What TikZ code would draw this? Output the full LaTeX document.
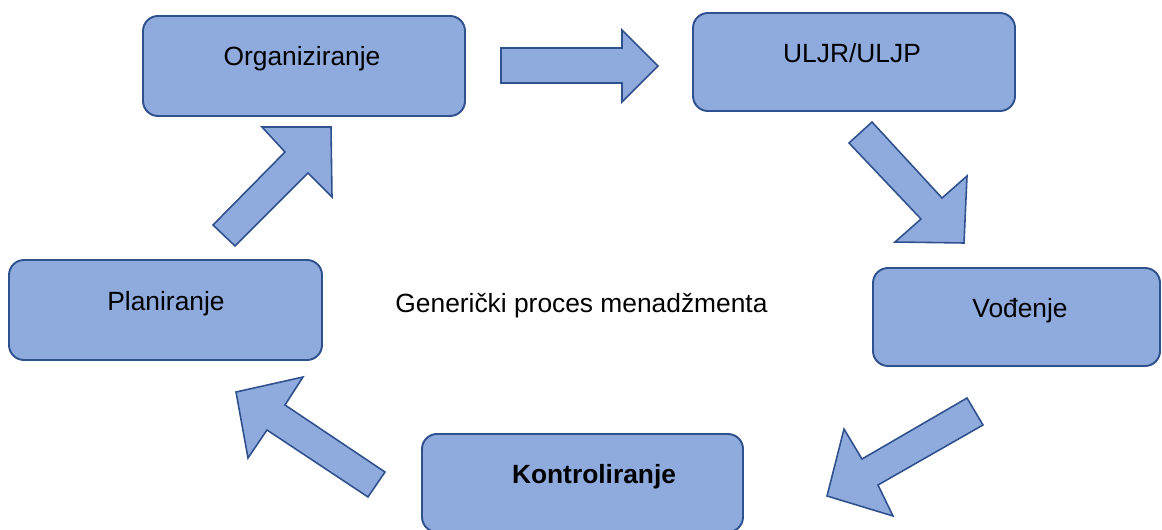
\documentclass[tikz,border=0pt]{standalone}
\usepackage{fontspec}
\setmainfont{Liberation Sans}
\definecolor{boxfill}{HTML}{8FAADC}
\definecolor{boxline}{HTML}{2F528F}
\begin{document}
\begin{tikzpicture}[x=0.02cm,y=-0.02cm,
  box/.style={draw=boxline,fill=boxfill,line width=1.1pt,rounded corners=0.3cm,inner sep=0pt},
  barrow/.style={draw=boxline,fill=boxfill,line width=0.9pt,line join=miter},
  txt/.style={inner sep=0pt,anchor=base,font=\fontsize{15}{18}\selectfont,text=black}]
\useasboundingbox (0,0) rectangle (1162,530);
\clip (0,0) rectangle (1162,530);
% boxes
\node[box,minimum width=0.02cm*322,minimum height=0.02cm*100] (org) at (304,66) {};
\node[box,minimum width=0.02cm*322,minimum height=0.02cm*98] (ulj) at (854,62) {};
\node[box,minimum width=0.02cm*313,minimum height=0.02cm*100] (plan) at (165.5,310) {};
\node[box,minimum width=0.02cm*287,minimum height=0.02cm*98] (vod) at (1016.5,317) {};
\node[box,minimum width=0.02cm*321,minimum height=0.02cm*98] (kon) at (582.5,483) {};
% texts
\node[txt] (orgT) at (302,66) {Organiziranje};
\node[txt] (uljT) at (852,63) {ULJR/ULJP};
\node[txt] (planT) at (166,310) {Planiranje};
\node[txt] (vodT) at (1020,317) {Vođenje};
\node[txt,font=\fontsize{15}{18}\selectfont\bfseries] (konT) at (594,483) {Kontroliranje};
\node[txt] (centerT) at (581.5,312) {Generički proces menadžmenta};
% block arrows
\draw[barrow] (501,48) -- (622,48) -- (622,30) -- (658,66) -- (622,102) -- (622,83) -- (501,83) -- cycle;
\draw[barrow] (872,122) -- (942,198) -- (967,176) -- (964,243) -- (895,242) -- (921,219) -- (849,143) -- cycle;
\draw[barrow] (967,398) -- (862,459) -- (844,429) -- (827,496) -- (893,516) -- (878,485) -- (983,425) -- cycle;
\draw[barrow] (385,472) -- (285,405) -- (303,377) -- (236,392) -- (248,458) -- (267,430) -- (368,497) -- cycle;
\draw[barrow] (213,225) -- (285,152) -- (262,127) -- (331,127) -- (332,197) -- (308,173) -- (235,246) -- cycle;
\end{tikzpicture}
\end{document}
